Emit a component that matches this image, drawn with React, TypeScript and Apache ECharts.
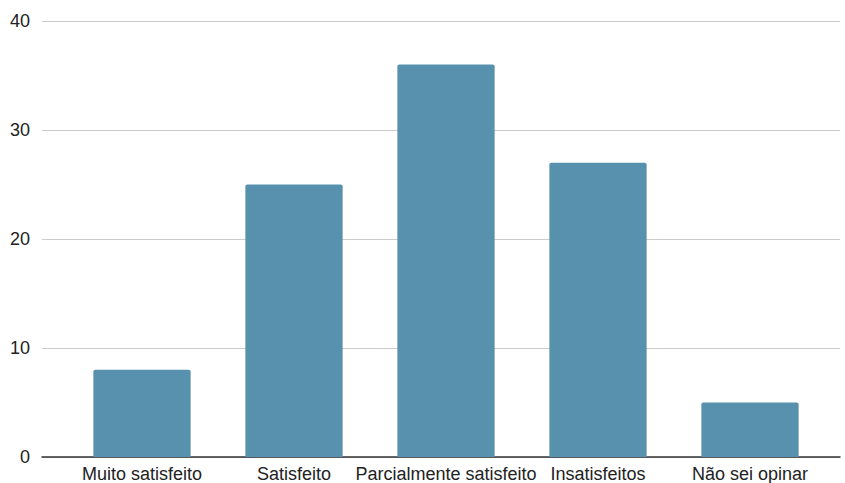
import React, { useEffect, useRef } from "react";
import * as echarts from "echarts";

const categories = ["Muito satisfeito", "Satisfeito", "Parcialmente satisfeito", "Insatisfeitos", "Não sei opinar"];
const values = [8, 25, 36, 27, 5];
const yTicks = [0, 10, 20, 30, 40];

export default function App() {
  const ref = useRef<HTMLDivElement>(null);
  useEffect(() => {
    if (!ref.current) return;
    const chart = echarts.init(ref.current, null, { renderer: "svg" });
    const font = "Liberation Sans, Arial, sans-serif";
    chart.setOption({
      animation: false,
      grid: [
        { left: 42, right: 5, top: 21, bottom: 26 },
        { left: 66, right: 19, top: 21, bottom: 26 },
      ],
      xAxis: [
        {
          gridIndex: 0,
          type: "value",
          min: 0,
          max: 1,
          axisLabel: { show: false },
          axisTick: { show: false },
          splitLine: { show: false },
          axisLine: { show: true, lineStyle: { color: "#333333", width: 1.5 } },
        },
        {
          gridIndex: 1,
          type: "category",
          data: categories,
          axisLine: { show: false },
          axisTick: { show: false },
          axisLabel: { color: "#222222", fontSize: 18, fontFamily: font, margin: 8, interval: 0 },
        },
      ],
      yAxis: [
        {
          gridIndex: 0,
          type: "value",
          min: yTicks[0],
          max: yTicks[yTicks.length - 1],
          interval: 10,
          axisLine: { show: false },
          axisTick: { show: false },
          axisLabel: { color: "#222222", fontSize: 18, fontFamily: font, margin: 12 },
          splitLine: { lineStyle: { color: "#cccccc", width: 1 } },
        },
        {
          gridIndex: 1,
          type: "value",
          min: yTicks[0],
          max: yTicks[yTicks.length - 1],
          interval: 10,
          show: false,
          splitLine: { show: false },
        },
      ],
      series: [
        {
          type: "bar",
          xAxisIndex: 1,
          yAxisIndex: 1,
          data: values,
          barCategoryGap: "36%",
          itemStyle: { color: "#5891ae", borderRadius: [2, 2, 0, 0] },
          z: 1,
        },
      ],
    });
    return () => chart.dispose();
  }, []);
  return <div ref={ref} style={{ width: 845, height: 483, position: "absolute", left: 0, top: 0 }} />;
}
